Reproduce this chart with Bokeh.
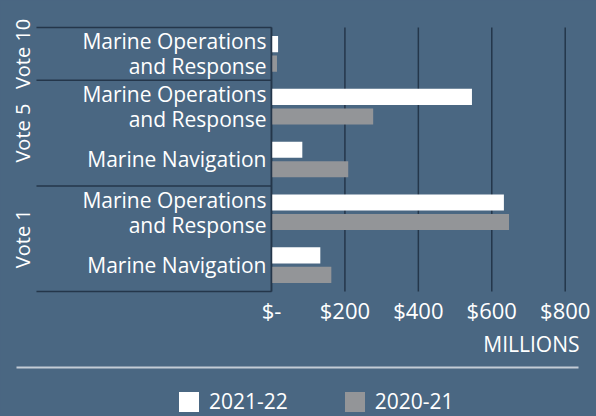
from bokeh.plotting import figure
from bokeh.models import (Range1d, FixedTicker, LinearAxis, Label, BoxAnnotation,
                          Legend, LegendItem, ColumnDataSource, GlobalInlineStyleSheet)
from bokeh.transform import dodge
from bokeh.embed import file_html
from bokeh.resources import INLINE

# ---- data ----
votes = ["Vote 10", "Vote 5", "Vote 5", "Vote 1", "Vote 1"]
programmes = ["Marine Operations\nand Response", "Marine Operations\nand Response",
              "Marine Navigation", "Marine Operations\nand Response", "Marine Navigation"]
series_names = ["2021-22", "2020-21"]
values_2021_22 = [18, 546, 84, 633, 133]
values_2020_21 = [15, 277, 209, 647, 163]
tick_values = [0, 200, 400, 600, 800]
tick_labels = ["$-", "$200", "$400", "$600", "$800"]
axis_title = "MILLIONS"

# ---- styles ----
BG = "#4a6782"
DARK = "#24364a"
GREY = "#939598"
WHITE = "#ffffff"
RULE = "#c3ccd5"
FONT = "Open Sans"

# ---- layout (the frame covers the page; the plot band is placed by the ranges) ----
X_START, X_END = -738, 885.2      # 0 at x=271 px, 800 at x=565 px
Y_START, Y_END = -2.367, 5.511    # category band from y=291 px up to y=27 px
SEP_LEFT = -640                   # left end of the group separator lines
VOTE_AXIS_X = -640                # where the vote-label axis stands

n = len(votes)
ypos = [n - i - 0.5 for i in range(n)]

p = figure(width=596, height=416, x_range=Range1d(X_START, X_END), y_range=Range1d(Y_START, Y_END),
           output_backend="svg", toolbar_location=None, x_axis_location=None, y_axis_location=None,
           min_border_left=0, min_border_right=0, min_border_top=0, min_border_bottom=0)
p.stylesheets = [GlobalInlineStyleSheet(css=f"body {{ background: {BG}; margin: 0; }}")]
p.background_fill_color = BG
p.border_fill_color = BG
p.outline_line_color = None
p.xgrid.visible = False
p.ygrid.visible = False

# vertical grid lines over the category band
p.segment(x0=tick_values, x1=tick_values, y0=[0] * len(tick_values), y1=[n] * len(tick_values),
          line_color=DARK, line_width=1.5)

src = ColumnDataSource(dict(y=ypos, a=values_2021_22, b=values_2020_21))
r1 = p.hbar(y=dodge("y", 0.185), left=0, right="a", height=0.305,
            source=src, fill_color=WHITE, line_color=None)
r2 = p.hbar(y=dodge("y", -0.185), left=0, right="b", height=0.305,
            source=src, fill_color=GREY, line_color=None)

# group separators (boundaries between votes)
bounds = [n] + [n - i for i in range(1, n) if votes[i] != votes[i - 1]] + [0]
p.segment(x0=[SEP_LEFT] * len(bounds), x1=[0] * len(bounds), y0=bounds, y1=bounds,
          line_color=DARK, line_width=1.5)

# category axis standing at x = 0
ya = LinearAxis(fixed_location=0, ticker=FixedTicker(ticks=ypos), bounds=(0, n))
ya.major_label_overrides = dict(zip(ypos, programmes))
ya.axis_line_color = DARK
ya.axis_line_width = 1.5
ya.major_tick_line_color = None
ya.minor_tick_line_color = None
ya.major_tick_out = 0
ya.major_tick_in = 0
ya.major_label_standoff = 5
ya.major_label_text_color = WHITE
ya.major_label_text_font = FONT
ya.major_label_text_font_size = "21px"
ya.major_label_text_line_height = 0.9
p.add_layout(ya, "left")

# vote labels axis
centers, names = [], []
for top, bot in zip(bounds[:-1], bounds[1:]):
    centers.append((top + bot) / 2)
    names.append(votes[n - top])
va = LinearAxis(fixed_location=VOTE_AXIS_X, ticker=FixedTicker(ticks=centers))
va.major_label_overrides = dict(zip(centers, names))
va.major_label_orientation = "vertical"
va.axis_line_color = None
va.major_tick_line_color = None
va.minor_tick_line_color = None
va.major_tick_out = 0
va.major_tick_in = 0
va.major_label_standoff = 0
va.major_label_text_color = WHITE
va.major_label_text_font = FONT
va.major_label_text_font_size = "20px"
p.add_layout(va, "left")

# value axis standing under the category band
xa = LinearAxis(fixed_location=0, ticker=FixedTicker(ticks=tick_values))
xa.major_label_overrides = dict(zip(tick_values, tick_labels))
xa.axis_line_color = None
xa.major_tick_line_color = None
xa.minor_tick_line_color = None
xa.major_tick_out = 0
xa.major_tick_in = 0
xa.major_label_standoff = 3
xa.major_label_text_color = WHITE
xa.major_label_text_font = FONT
xa.major_label_text_font_size = "22px"
p.add_layout(xa, "below")

# axis title, rule and legend (screen units from the frame's bottom-left)
p.add_layout(Label(x=579, y=73, x_units="screen", y_units="screen", text=axis_title,
                   text_align="right", text_baseline="alphabetic", text_color=WHITE,
                   text_font=FONT, text_font_size="21px"))
p.add_layout(BoxAnnotation(left=16, right=578, top=50, bottom=48,
                           left_units="screen", right_units="screen",
                           top_units="screen", bottom_units="screen",
                           fill_color=RULE, fill_alpha=1, line_color=None))

legend = Legend(items=[LegendItem(label=series_names[0], renderers=[r1]),
                       LegendItem(label=series_names[1], renderers=[r2])],
                orientation="horizontal", location=(176, 1), padding=0, margin=0,
                border_line_color=None, background_fill_alpha=0,
                label_text_color=WHITE, label_text_font=FONT, label_text_font_size="21px",
                glyph_width=25, glyph_height=25, label_standoff=8, spacing=54)
p.add_layout(legend, "center")

open("out.html", "w").write(file_html(p, INLINE))
